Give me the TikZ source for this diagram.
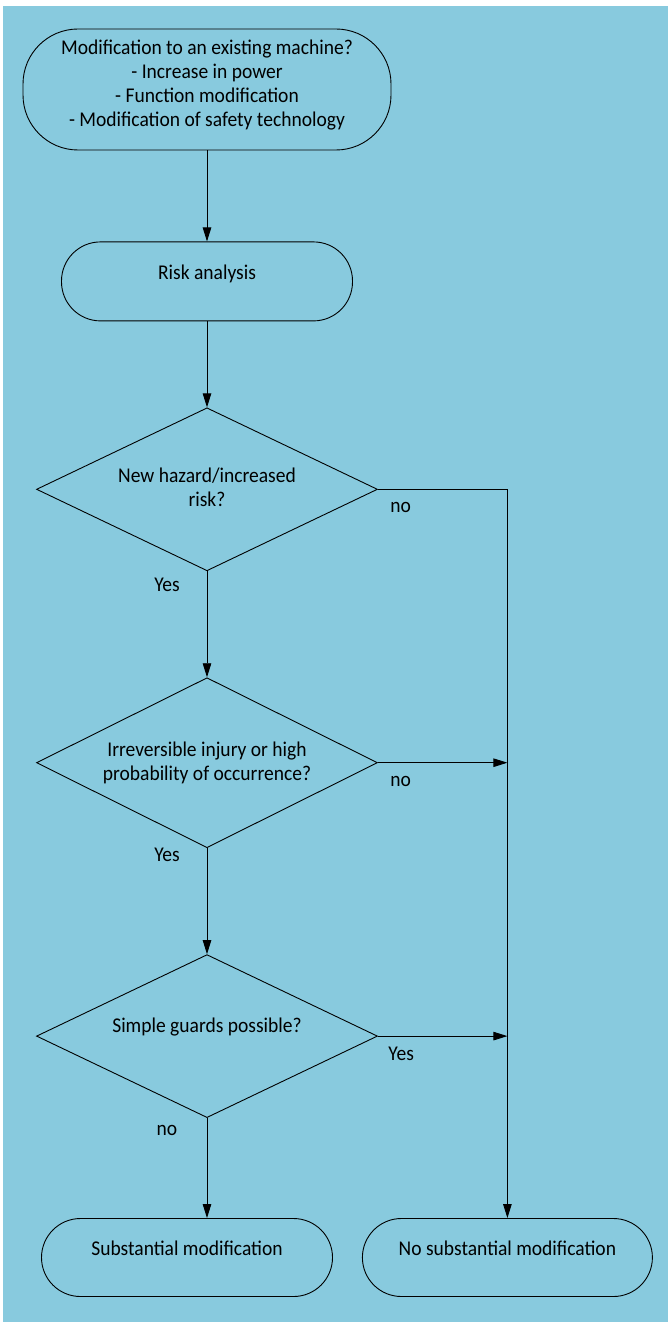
\documentclass[tikz,border=0pt]{standalone}
\usepackage{fontspec}
\setmainfont{Carlito}[FakeStretch=0.93]
\usetikzlibrary{shapes.geometric, arrows.meta, positioning, calc}
\definecolor{panelblue}{RGB}{136, 202, 222}

\begin{document}
\begin{tikzpicture}[
        x=1pt, y=-1pt,
        node distance=90pt,
        font=\fontsize{21}{24}\selectfont,
        endbox/.style={rectangle, draw, line width=0.9pt, rounded corners=39pt,
            minimum width=291pt, minimum height=79pt, align=center,
            text height=15pt, text depth=19pt},
        decision/.style={diamond, draw, line width=0.9pt, aspect=2.1,
            minimum width=341pt, minimum height=163pt, align=center,
            text height=15pt, inner sep=2pt},
        arrow/.style={line width=0.9pt, -{Triangle[length=14pt, width=8.5pt]}},
        lbl/.style={inner sep=2pt, text height=15pt, text depth=4pt}
    ]
        \fill[panelblue] (3,6) rectangle (668,1322);
        \useasboundingbox (0,0) rectangle (668,1327);

        \node[endbox, minimum width=368pt, minimum height=121pt, rounded corners=55pt,
            text height=87pt, text depth=12pt] (start) at (207,89.5)
            {Modification to an existing machine?\\- Increase in power\\- Function modification\\- Modification of safety technology};
        \node[endbox, below=91pt of start] (risk) {Risk analysis};
        \node[decision, below=86pt of risk, text height=39pt, text depth=5pt] (hazard) {New hazard/increased\\risk?};
        \node[decision, below=106pt of hazard, minimum height=170pt, text height=36pt, text depth=0pt] (injury) {Irreversible injury or high\\probability of occurrence?};
        \node[decision, below=106pt of injury, text depth=23pt] (guards) {Simple guards possible?};
        \node[endbox, below=100pt of guards, xshift=-20pt, minimum height=78pt] (subst) {Substantial modification};
        \node[endbox, right=29pt of subst, minimum width=290pt, minimum height=78pt] (nosubst) {No substantial modification};

        \draw[arrow] (start) -- (risk);
        \draw[arrow] (risk) -- (hazard);
        \draw[arrow] (hazard.south) -- node[lbl, pos=0, anchor=north, shift={(-40pt,-3pt)}]{Yes} (injury.north);
        \draw[arrow] (injury.south) -- node[lbl, pos=0, anchor=north, shift={(-40pt,4pt)}]{Yes} (guards.north);
        \draw[arrow] (guards.south) -- node[lbl, pos=0, anchor=north, xshift=-40pt]{no} (guards.south |- subst.north);

        \draw[arrow] (hazard.east) -| node[lbl, pos=0, anchor=north west, shift={(10pt,-6pt)}]{no} (nosubst.north);
        \draw[arrow] (injury.east) -- node[lbl, pos=0, anchor=north west, shift={(10pt,-6pt)}]{no} (injury.east -| nosubst.north);
        \draw[arrow] (guards.east) -- node[lbl, pos=0, anchor=north west, shift={(8pt,-7pt)}]{Yes} (guards.east -| nosubst.north);
    \end{tikzpicture}
\end{document}
